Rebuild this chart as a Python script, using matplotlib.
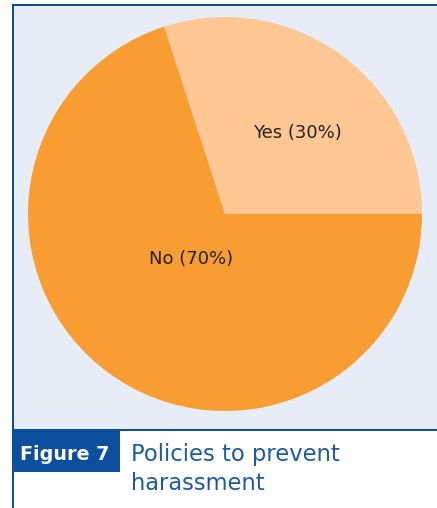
import matplotlib.pyplot as plt
from matplotlib.patches import Rectangle

# data
labels = ["Yes", "No"]
shares = [30, 70]
colours = ["#fec794", "#f99d33"]
fig_title = "Figure 7"
caption = "Policies to prevent\nharassment"

W, H = 437, 508
fig = plt.figure(figsize=(W / 100, H / 100), dpi=100)
fig.patch.set_facecolor("white")

blue = "#0b4f9e"
# chart panel background
fig.add_artist(Rectangle((13 / W, 1 - 430 / H), 1, (430 - 5) / H, transform=fig.transFigure,
                         facecolor="#e6edf6", edgecolor="none", zorder=0))
# frame lines
fig.add_artist(Rectangle((12 / W, 0), 2 / W, 1 - 4 / H, transform=fig.transFigure,
                         facecolor=blue, edgecolor="none", zorder=1))
fig.add_artist(Rectangle((12 / W, 1 - 6 / H), 1, 2 / H, transform=fig.transFigure,
                         facecolor=blue, edgecolor="none", zorder=1))
fig.add_artist(Rectangle((12 / W, 1 - 431 / H), 1, 2 / H, transform=fig.transFigure,
                         facecolor=blue, edgecolor="none", zorder=1))
# figure label box
fig.add_artist(Rectangle((12 / W, 1 - 472 / H), 108 / W, 43 / H, transform=fig.transFigure,
                         facecolor=blue, edgecolor="none", zorder=1))

fam = ["DejaVu Sans"]
fig.text(65 / W, 1 - 455 / H, fig_title, color="white", fontsize=13.8, fontweight="bold",
         family=fam, va="center", ha="center")
fig.text(131 / W, 1 - 469 / H, caption, color="#1a5aa6", fontsize=16.3, family=fam,
         va="center", ha="left", linespacing=1.3)

# pie
r = 197
cx, cy = 225, 214
ax = fig.add_axes([(cx - r) / W, 1 - (cy + r) / H, 2 * r / W, 2 * r / H])
ax.pie(shares, colors=colours, startangle=0, counterclock=True, radius=1,
       wedgeprops=dict(linewidth=0))
ax.set_xlim(-1, 1)
ax.set_ylim(-1, 1)
ax.set_aspect("equal")
ax.axis("off")

offsets = [(0.365, 0.41), (-0.17, -0.23)]
for lab, val, (ox, oy) in zip(labels, shares, offsets):
    ax.text(ox, oy, f"{lab} ({val}%)", ha="center", va="center", fontsize=13,
            family=fam, color="#222222")

fig.savefig("out.png", dpi=100)
